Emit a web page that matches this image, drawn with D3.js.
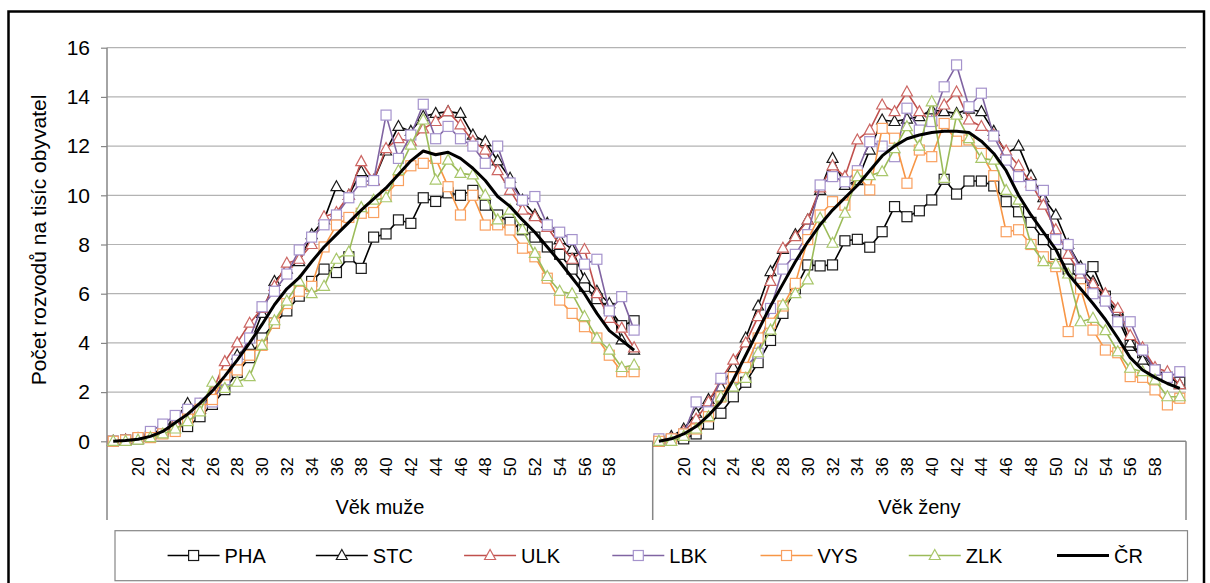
<!DOCTYPE html>
<html><head><meta charset="utf-8">
<script src="https://cdn.jsdelivr.net/npm/d3@7"></script>
<style>
body{margin:0;background:#fff;}
text{font-family:"Liberation Sans",Arial,sans-serif;fill:#000;}
</style>
</head><body>
<svg id="c" width="1210" height="583"></svg>
<script>
// ---------------- DATA ----------------
const ages = [18,19,20,21,22,23,24,25,26,27,28,29,30,31,32,33,34,35,36,37,38,39,40,41,42,43,44,45,46,47,48,49,50,51,52,53,54,55,56,57,58,59,60];
const ageTicks = [20,22,24,26,28,30,32,34,36,38,40,42,44,46,48,50,52,54,56,58];
const yTicks = [0,2,4,6,8,10,12,14,16];
const groupLabels = ["Věk muže","Věk ženy"];
const yTitle = "Počet rozvodů na tisíc obyvatel";
const seriesNames = ["PHA","STC","ULK","LBK","VYS","ZLK","ČR"];

// men (age 18..60)
const menPHA = [0,0.05,0.1,0.2,0.4,0.6,0.6,1.0,1.5,2.1,2.8,3.4,4.2,4.8,5.3,5.9,6.5,7.0,6.86,7.5,7.03,8.3,8.43,9.0,8.86,9.9,9.75,10.1,10.0,10.2,9.6,9.2,8.9,8.6,8.3,7.9,7.6,7.0,6.3,5.8,5.4,4.7,4.9];
const menSTC = [0,0.05,0.1,0.3,0.5,0.9,1.54,1.3,2.0,2.6,3.5,3.9,5.2,6.5,7.0,7.3,8.4,9.0,10.35,10.0,10.96,10.6,11.8,12.8,12.6,13.2,13.33,13.4,13.33,12.45,12.18,11.4,10.69,9.8,9.2,8.86,8.2,7.8,6.6,6.1,5.6,4.12,3.71];
const menULK = [0,0.05,0.1,0.25,0.45,0.75,1.1,1.5,2.0,3.24,4.0,4.8,5.4,6.3,7.24,7.4,8.0,9.13,9.3,10.0,11.37,10.6,11.9,12.3,12.2,12.7,13.0,13.4,12.86,12.2,11.84,11.0,10.2,9.4,9.13,8.7,8.0,7.4,7.8,6.0,5.0,4.6,3.8];
const menLBK = [0,0.05,0.15,0.4,0.7,1.05,1.3,1.55,1.6,2.5,3.3,4.2,5.47,6.1,6.8,7.78,8.3,8.8,9.2,9.9,10.55,10.6,13.26,11.5,12.45,13.7,12.3,12.8,12.3,12.0,11.3,12.0,10.5,9.8,9.95,8.8,8.5,8.2,7.2,7.4,5.3,5.88,4.52];
const menVYS = [0,0.05,0.15,0.15,0.3,0.4,0.9,1.3,1.7,2.7,2.9,3.5,3.9,4.8,5.6,6.1,6.3,7.9,8.79,9.1,9.27,9.3,10.0,10.6,11.2,11.3,11.5,10.35,9.2,10.0,8.79,8.8,8.59,7.85,7.5,6.63,5.74,5.2,4.66,4.2,3.5,2.83,2.83];
const menZLK = [0,0,0.05,0.15,0.3,0.5,0.8,1.2,2.4,2.15,2.4,2.63,3.9,4.9,5.7,6.5,6.0,6.3,7.4,7.7,9.5,9.8,9.9,11.0,12.04,13.06,10.62,11.43,10.89,10.83,10.0,9.0,9.4,8.6,7.64,6.7,6.1,6.0,5.07,4.19,3.71,3.0,3.1];
const menCR  = [0,0.03,0.08,0.2,0.4,0.75,1.1,1.55,2.05,2.65,3.3,4.0,4.75,5.55,6.2,6.65,7.3,7.9,8.4,8.9,9.4,9.85,10.3,10.85,11.4,11.8,11.65,11.75,11.5,11.1,10.6,9.95,9.55,9.0,8.5,7.9,7.3,6.65,6.0,5.2,4.5,4.1,3.7];

// women (age 18..60)
const womenPHA = [0,0.05,0.1,0.3,0.7,1.14,1.81,2.4,3.2,4.1,5.2,6.2,7.17,7.13,7.17,8.15,8.21,7.89,8.52,9.54,9.13,9.37,9.81,10.65,10.05,10.58,10.58,10.38,9.74,9.33,8.9,8.2,7.6,7.0,6.6,7.1,5.9,5.0,3.9,3.6,2.9,2.6,2.4];
const womenSTC = [0,0.2,0.5,1.14,1.7,2.2,3.0,4.2,5.5,6.9,7.8,8.4,9.0,10.2,11.5,10.4,10.6,11.84,13.06,13.0,13.1,13.2,13.47,13.4,13.33,13.5,13.4,12.6,11.7,12.0,10.8,9.9,9.2,8.0,7.1,6.5,5.8,5.3,4.0,3.3,2.9,2.7,2.3];
const womenULK = [0,0.1,0.4,0.9,1.6,2.5,3.3,4.0,5.07,6.5,7.85,8.32,9.0,10.3,11.2,10.76,12.25,12.65,13.67,13.4,14.2,13.4,13.0,13.67,14.2,13.06,12.8,12.45,11.8,11.2,10.5,9.6,8.6,7.6,6.8,6.4,6.0,5.4,4.3,3.8,3.0,2.83,2.3];
const womenLBK = [0.1,0.1,0.3,1.6,1.2,2.56,2.56,3.0,3.58,5.4,7.0,7.6,8.4,10.42,10.76,10.55,11.0,12.18,12.0,11.57,13.54,12.65,13.0,14.41,15.3,13.6,14.15,12.41,11.43,10.76,10.4,10.2,8.2,8.0,7.0,6.0,5.7,4.86,4.86,3.71,2.9,2.6,2.83];
const womenVYS = [0,0.1,0.3,0.5,1.0,1.8,2.6,3.0,4.2,4.8,5.5,6.42,8.2,9.2,9.74,9.6,10.82,10.22,12.72,12.32,10.49,11.84,11.57,12.92,12.2,12.25,11.7,10.8,8.52,8.6,8.0,7.5,7.1,4.46,6.2,4.52,3.71,3.6,2.63,2.6,2.09,1.48,1.75];
const womenZLK = [0,0,0.2,0.5,1.0,1.8,2.2,2.56,3.6,4.52,5.54,6.0,6.56,9.07,8.05,9.27,10.76,10.8,10.96,11.9,12.79,12.0,13.8,10.69,13.26,12.3,11.5,11.43,10.2,9.8,8.0,7.3,7.2,6.8,4.86,5.0,4.5,3.64,2.97,2.83,2.49,1.81,1.81];
const womenCR  = [0,0.1,0.3,0.6,1.05,1.6,2.5,3.5,4.5,5.5,6.4,7.3,8.1,8.8,9.4,9.9,10.4,11.0,11.6,12.0,12.3,12.45,12.55,12.6,12.6,12.55,12.2,11.7,11.0,10.0,9.2,8.5,7.8,6.8,6.2,5.6,4.95,4.2,3.4,2.9,2.6,2.35,2.15];

// ---------------- STYLE / LAYOUT ----------------
const styles = {
  "PHA": {line:"#000000", mark:"#1a1a1a", shape:"square", w:1.6},
  "STC": {line:"#000000", mark:"#1a1a1a", shape:"triangle", w:1.6},
  "ULK": {line:"#c0504d", mark:"#cc6663", shape:"triangle", w:1.6},
  "LBK": {line:"#8064a2", mark:"#a593cc", shape:"square", w:1.6},
  "VYS": {line:"#f79646", mark:"#f9a060", shape:"square", w:1.6},
  "ZLK": {line:"#9bbb59", mark:"#a9c76c", shape:"triangle", w:1.6},
  "ČR":  {line:"#000000", mark:null, shape:null, w:3}
};
const menData = {"PHA":menPHA,"STC":menSTC,"ULK":menULK,"LBK":menLBK,"VYS":menVYS,"ZLK":menZLK,"ČR":menCR};
const womenData = {"PHA":womenPHA,"STC":womenSTC,"ULK":womenULK,"LBK":womenLBK,"VYS":womenVYS,"ZLK":womenZLK,"ČR":womenCR};

const L = 107, R = 1186, T = 47.7, B = 441.3, CB = 520;
const nSlots = ages.length * 2 + 1;           // men group has one empty trailing slot
const bw = (R - L) / nSlots;
const split = L + (ages.length + 1) * bw;

const svg = d3.select("#c");
svg.append("rect").attr("width",1210).attr("height",583).attr("fill","#fff");
// outer frame
svg.append("rect").attr("x",8.5).attr("y",11.5).attr("width",1195.5).attr("height",620)
  .attr("fill","none").attr("stroke","#000").attr("stroke-width",2.5);

const y = d3.scaleLinear().domain([0,16]).range([B,T]);
const xMen = d3.scaleBand().domain(ages.concat(["blank"])).range([L, split]).paddingInner(0).paddingOuter(0);
const xWomen = d3.scaleBand().domain(ages).range([split, R]).paddingInner(0).paddingOuter(0);

// gridlines
svg.append("g").selectAll("line").data(yTicks.filter(d=>d>0)).join("line")
  .attr("x1",L).attr("x2",R).attr("y1",d=>y(d)).attr("y2",d=>y(d))
  .attr("stroke","#b3b3b3").attr("stroke-width",1.2);

// y axis
const yAxis = svg.append("g").attr("transform",`translate(${L},0)`)
  .call(d3.axisLeft(y).tickValues(yTicks).tickSize(6).tickPadding(11).tickFormat(d3.format("d")));
yAxis.select(".domain").remove();
yAxis.selectAll(".tick line").attr("stroke","#868686").attr("stroke-width",1.2);
yAxis.selectAll(".tick text").attr("font-size",21).attr("fill","#000")
  .attr("font-family","Liberation Sans, Arial, sans-serif");
svg.append("line").attr("x1",L).attr("x2",L).attr("y1",T).attr("y2",CB)
  .attr("stroke","#868686").attr("stroke-width",1.5);

// x axes (per panel)
function xAxisFor(scale){
  const g = svg.append("g").attr("transform",`translate(0,${B})`)
    .call(d3.axisBottom(scale).tickValues(ageTicks).tickSize(0));
  g.select(".domain").remove();
  g.selectAll(".tick text").attr("font-size",17).attr("fill","#000")
    .attr("font-family","Liberation Sans, Arial, sans-serif")
    .attr("transform","rotate(-90)").attr("text-anchor","end")
    .attr("x",-16).attr("y",0).attr("dy","0.36em");
  return g;
}
xAxisFor(xMen); xAxisFor(xWomen);
svg.append("line").attr("x1",L).attr("x2",R).attr("y1",B).attr("y2",B)
  .attr("stroke","#868686").attr("stroke-width",1.5);
[split, R].forEach(xv=>{
  svg.append("line").attr("x1",xv).attr("x2",xv).attr("y1",B).attr("y2",CB)
    .attr("stroke","#868686").attr("stroke-width",1.5);
});
// group labels
[[L,split],[split,R]].forEach((r,i)=>{
  svg.append("text").attr("x",(r[0]+r[1])/2).attr("y",514).attr("text-anchor","middle")
    .attr("font-size",20).text(groupLabels[i]);
});

// y title
svg.append("text").attr("transform","translate(46,240) rotate(-90)")
  .attr("text-anchor","middle").attr("font-size",21).text(yTitle);

// markers
function drawMarker(g, shape, cx, cy, color){
  if(shape==="square"){
    g.append("rect").attr("x",cx-5).attr("y",cy-5).attr("width",10).attr("height",10)
      .attr("fill","#fff").attr("stroke",color).attr("stroke-width",1.2);
  } else if(shape==="triangle"){
    const h=10, s=11;
    g.append("path").attr("d",`M${cx},${cy-h*0.6}L${cx+s/2},${cy+h*0.4}L${cx-s/2},${cy+h*0.4}Z`)
      .attr("fill","#fff").attr("stroke",color).attr("stroke-width",1.2);
  }
}

const line = d3.line().x(d=>d[0]).y(d=>d[1]);
const plotG = svg.append("g");
seriesNames.forEach(name=>{
  const st = styles[name];
  [[xMen, menData[name]],[xWomen, womenData[name]]].forEach(([xs, vals])=>{
    const pts = vals.map((v,i)=>[xs(ages[i]) + xs.bandwidth()/2, y(v)]);
    const g = plotG.append("g");
    g.append("path").attr("d",line(pts)).attr("fill","none")
      .attr("stroke",st.line).attr("stroke-width",st.w).attr("stroke-linejoin","round");
    if(st.shape) pts.forEach(p=>drawMarker(g, st.shape, p[0], p[1], st.mark));
  });
});

// legend
const LX0 = 115, LX1 = 1187.5, LY0 = 530.7, LY1 = 580.7;
svg.append("rect").attr("x",LX0).attr("y",LY0).attr("width",LX1-LX0).attr("height",LY1-LY0)
  .attr("fill","#fff").attr("stroke","#868686").attr("stroke-width",1.2);
const legX = d3.scalePoint().domain(seriesNames).range([167.6, 1057]);
seriesNames.forEach(name=>{
  const st = styles[name];
  const x0 = legX(name), cy = 555.5;
  const g = svg.append("g");
  g.append("line").attr("x1",x0).attr("x2",x0+52).attr("y1",cy).attr("y2",cy)
    .attr("stroke",st.line).attr("stroke-width",st.w);
  if(st.shape) drawMarker(g, st.shape, x0+26, cy, st.mark);
  g.append("text").attr("x",x0+57).attr("y",cy+7).attr("font-size",20).text(name);
});
</script>
</body></html>
